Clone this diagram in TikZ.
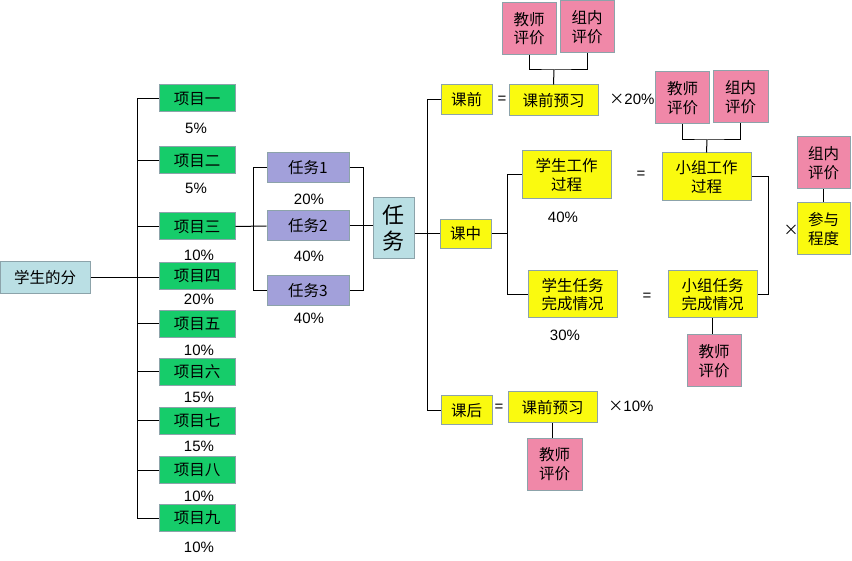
\documentclass[tikz,border=0pt]{standalone}
\usepackage{fontspec}
\setmainfont{Liberation Sans}
\newfontfamily\cjk{Noto Sans CJK SC}
\definecolor{cgreen}{RGB}{22,204,106}
\definecolor{cyellow}{RGB}{250,250,15}
\definecolor{cpink}{RGB}{240,136,168}
\definecolor{clav}{RGB}{162,160,218}
\definecolor{cblue}{RGB}{186,223,228}
\definecolor{cborder}{RGB}{140,163,170}
\tikzset{
  box/.style={draw=cborder, line width=1pt, inner sep=0pt, align=center,
    font=\cjk\fontsize{15.5}{18.5}\selectfont, text=black},
  gbox/.style={box, fill=cgreen, minimum width=76pt, minimum height=27pt},
  tbox/.style={box, fill=clav, minimum width=82pt, minimum height=30pt},
  ybox/.style={box, fill=cyellow},
  pbox/.style={box, fill=cpink, minimum width=54pt, minimum height=52pt},
  pct/.style={font=\fontsize{15}{18}\selectfont, inner sep=0pt},
  conn/.style={draw=black, line width=1pt},
}
\newcommand{\tms}{{\cjk ×}}
\begin{document}
\begin{tikzpicture}[x=1pt,y=-1pt]
\useasboundingbox[fill=white] (0,0) rectangle (852,561);
% root
\node[box, fill=cblue, minimum width=90pt, minimum height=32pt] (s) at (45,278) {学生的分};
% projects
\node[gbox] (p1) at (197,98.5) {项目一};
\node[gbox] (p2) at (197,160.5) {项目二};
\node[gbox] (p3) at (197,226.5) {项目三};
\node[gbox] (p4) at (197,276) {项目四};
\node[gbox] (p5) at (197,324) {项目五};
\node[gbox] (p6) at (197,372) {项目六};
\node[gbox] (p7) at (197,421) {项目七};
\node[gbox] (p8) at (197,470) {项目八};
\node[gbox] (p9) at (197,518) {项目九};
\node[pct] (l1) at (196,128) {5\%};
\node[pct] (l2) at (196,188) {5\%};
\node[pct] (l3) at (199,255) {10\%};
\node[pct] (l4) at (199,299) {20\%};
\node[pct] (l5) at (199,350) {10\%};
\node[pct] (l6) at (199,397) {15\%};
\node[pct] (l7) at (199,446) {15\%};
\node[pct] (l8) at (199,496) {10\%};
\node[pct] (l9) at (199,547) {10\%};
\coordinate (tx) at (137,0);
\draw[conn] (p1.west) -- (p1.west -| tx) -- (p9.west -| tx) -- (p9.west);
\foreach \i in {2,3,5,6,7,8} {\draw[conn] (p\i.west) -- (p\i.west -| tx);}
\draw[conn] (s.east) -- (s.east -| p4.west);
% tasks
\node[tbox] (t1) at (308,168) {任务1};
\node[tbox] (t2) at (308,226) {任务2};
\node[tbox] (t3) at (308,291) {任务3};
\node[pct] (m1) at (309,199) {20\%};
\node[pct] (m2) at (309,256) {40\%};
\node[pct] (m3) at (309,318) {40\%};
\coordinate (lx) at (253,0);
\coordinate (rx) at (363,0);
\draw[conn] (p3.east) -- (t2.west);
\draw[conn] (t1.west) -- (t1.west -| lx) -- (t3.west -| lx) -- (t3.west);
\draw[conn] (t1.east) -- (t1.east -| rx) -- (t3.east -| rx) -- (t3.east);
\node[box, fill=cblue, minimum width=41pt, minimum height=61pt, font=\cjk\fontsize{22}{26}\selectfont] (T) at (393.5,228.5) {任\\务};
\draw[conn] (t2.east) -- (t2.east -| T.west);
% phases
\node[ybox, minimum width=51pt, minimum height=30pt] (q1) at (466.5,100) {课前};
\node[ybox, minimum width=51pt, minimum height=29pt] (q2) at (465.5,234) {课中};
\node[ybox, minimum width=51pt, minimum height=29pt] (q3) at (466.5,410.5) {课后};
\coordinate (qx) at (427,0);
\draw[conn] (q1.west) -- (q1.west -| qx) -- (q3.west -| qx) -- (q3.west);
\draw[conn] (T.east |- q2.west) -- (q2.west);
% before class
\node[pct] (eq1) at (502,100) {=};
\node[ybox, minimum width=89pt, minimum height=31pt] (r1) at (553.5,100.5) {课前预习};
\node[pct] (x1) at (632,99) {\tms 20\%};
\node[pbox] (e1) at (529,28.5) {教师\\评价};
\node[pbox] (e2) at (587,27) {组内\\评价};
\coordinate (j1) at (554,70);
\draw[conn] (e1.south) |- (j1) -| (e2.south);
\draw[conn] (j1) -- (r1.north);
% in class
\node[ybox, minimum width=89pt, minimum height=48pt] (w1) at (566.5,175) {学生工作\\过程};
\node[ybox, minimum width=89pt, minimum height=47pt] (w2) at (572.5,294.5) {学生任务\\完成情况};
\node[pct] (m4) at (563,217) {40\%};
\node[pct] (m5) at (565,335) {30\%};
\coordinate (bx) at (507,0);
\draw[conn] (q2.east) -- (q2.east -| bx);
\draw[conn] (w1.west) -- (w1.west -| bx) -- (w2.west -| bx) -- (w2.west);
\node[pct] (eq2) at (641,175) {=};
\node[pct] (eq3) at (647,297) {=};
\node[ybox, minimum width=89pt, minimum height=48pt] (g1) at (706.5,177) {小组工作\\过程};
\node[ybox, minimum width=89pt, minimum height=47pt] (g2) at (712.5,294.5) {小组任务\\完成情况};
\node[pbox, minimum height=52pt] (e3) at (682.5,98) {教师\\评价};
\node[pbox, minimum width=55pt, minimum height=52pt] (e4) at (740.5,97) {组内\\评价};
\coordinate (j2) at (707,140);
\draw[conn] (e3.south) |- (j2) -| (e4.south);
\draw[conn] (j2) -- (g1.north);
\coordinate (gx) at (768,0);
\draw[conn] (g1.east) -- (g1.east -| gx) -- (g2.east -| gx) -- (g2.east);
\node[pct] (x2) at (791,230) {\tms};
\node[pbox, minimum width=53pt] (k1) at (823.5,163) {组内\\评价};
\node[ybox, minimum width=53pt, minimum height=52pt] (k2) at (823.5,229) {参与\\程度};
\draw[conn] (k1.south) -- (k2.north);
\node[pbox] (e5) at (714,361) {教师\\评价};
\draw[conn] (g2.south) -- (g2.south |- e5.north);
% after class
\node[pct] (eq4) at (499,408) {=};
\node[ybox, minimum width=89pt, minimum height=31pt] (r2) at (552.5,407.5) {课前预习};
\node[pct] (x3) at (631,406) {\tms 10\%};
\node[pbox, minimum width=55pt] (e6) at (554.5,464) {教师\\评价};
\draw[conn] (r2.south) -- (r2.south |- e6.north);
\end{tikzpicture}
\end{document}
